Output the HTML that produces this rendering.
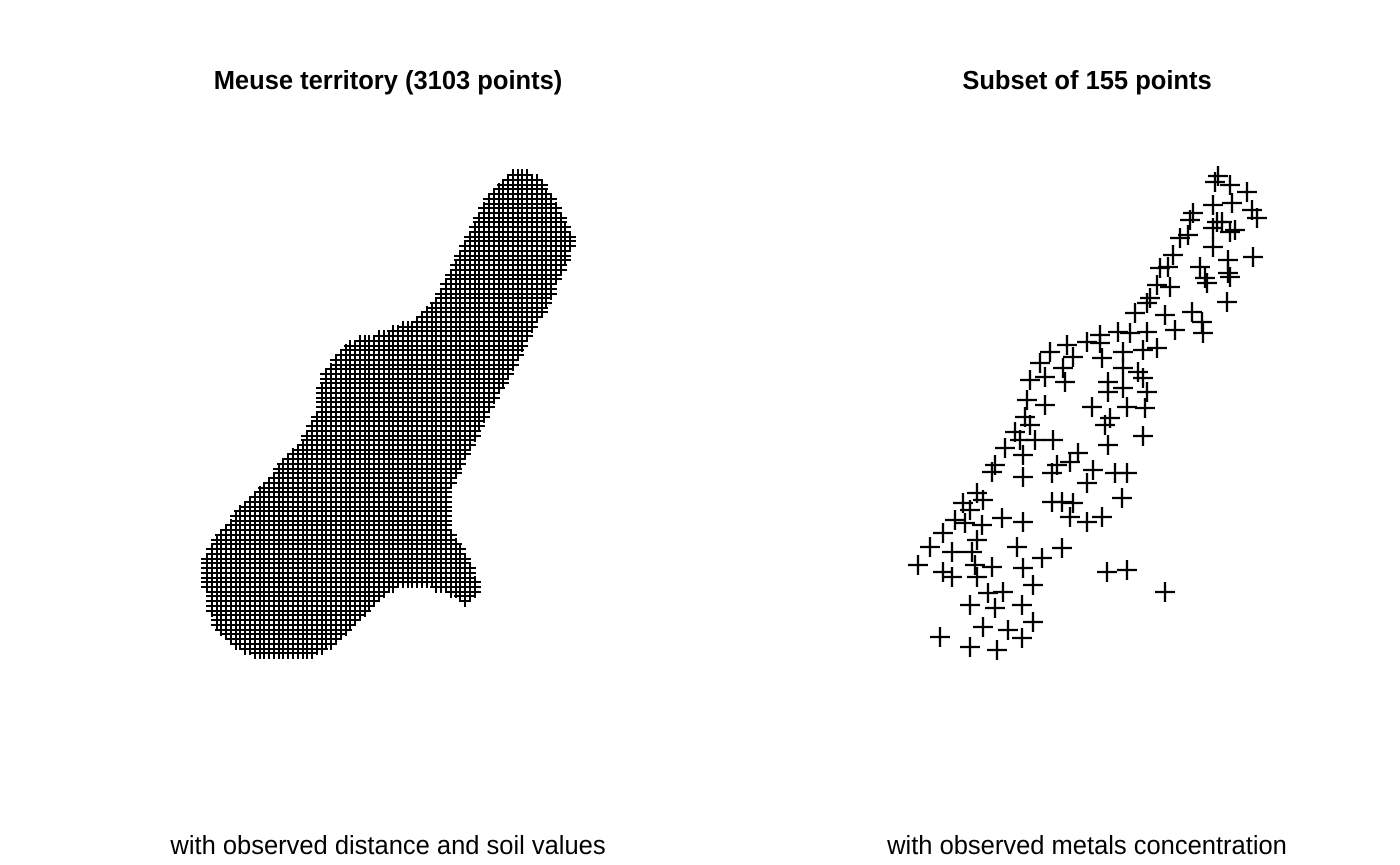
<!DOCTYPE html>
<html><head><meta charset="utf-8"><style>
html,body{margin:0;padding:0;background:#fff;}
svg{display:block;font-family:"Liberation Sans",Arial,sans-serif;}
</style></head><body>
<svg id="chart" width="1400" height="865" viewBox="0 0 1400 865">
<rect width="1400" height="865" fill="#fff"/>
<text x="388" y="89" text-anchor="middle" font-size="25.5" font-weight="bold">Meuse territory (3103 points)</text>
<text x="1087" y="89" text-anchor="middle" font-size="25.5" font-weight="bold">Subset of 155 points</text>
<text x="388" y="854" text-anchor="middle" font-size="25.5">with observed distance and soil values</text>
<text x="1087" y="854" text-anchor="middle" font-size="25.5">with observed metals concentration</text>
<g id="gridPts"></g>
<g id="samplePts"></g>
</svg>
<script>
// Territory boundary (RD coordinates, metres)
const boundaryX=[181105,181247,181356,181473,181523,181473,181390,181314,181163,181021,180912,180770,180636,180494,180469,180636,180728,180645,180494,180268,180075,179883,179716,179573,179297,178929,178711,178527,178460,178460,178569,178795,179071,179238,179381,179431,179548,179682,179992,180218,180385,180519,180661,180804,180971];
const boundaryY=[333740,333659,333490,333262,333152,332983,332814,332620,332366,332079,331885,331606,331352,331065,330727,330448,330220,330085,330169,330254,330254,330110,329941,329772,329628,329620,329713,329882,330220,330473,330676,330930,331234,331403,331690,331994,332163,332290,332375,332476,332645,332924,333211,333490,333684];
const gridStep=40;
// Sample locations (metres)
const sampleX=[181008,180984,181104,181240,180968,181120,180808,180784,181280,181320,181000,181040,180968,181144,181104,180768,180704,180968,180648,181088,181288,180608,180544,180864,180904,181088,181104,180520,180624,180920,180464,181080,180440,180344,180584,180800,180880,180664,180440,180208,180064,180888,180304,179960,179800,179664,179848,180064,180080,180248,180408,180520,179584,179624,179768,179504,179784,180248,180368,180408,180128,180128,180248,180440,179480,179624,180000,180280,180424,180144,180104,179464,179504,179384,179424,179544,179688,180408,180128,179304,179448,179888,179824,179720,179224,179448,179680,180008,180184,180280,179960,180240,179080,178968,179128,179680,179760,179848,179024,179280,179448,179824,179960,180080,178904,178984,179120,178808,179080,178704,178880,179040,179400,179760,179600,178608,178808,178880,179064,179200,179448,179080,180120,180280,180584,179528,179168,179288,179024,179224,179440,179528,179128,179328,179440,178784,179024,179240,179200];
const sampleY=[333492,333444,333420,333364,333260,333276,333196,333140,333220,333156,333124,333124,333076,333060,333044,333020,332996,332924,332860,332820,332844,332764,332756,332764,332676,332716,332684,332620,332604,332636,332516,332484,332476,332396,332380,332404,332324,332260,332244,332244,332220,332236,332236,332164,332140,332084,332044,332156,332036,332084,332100,332116,331996,331884,331956,331860,331844,331956,331924,331876,331844,331764,331796,331764,331700,331660,331644,331644,331636,331556,331500,331564,331500,331444,331380,331380,331380,331412,331340,331316,331260,331276,331204,331180,331180,331084,331116,331140,331116,331116,331036,330916,330956,330876,330900,330884,330884,330876,330820,330756,330724,330764,330724,330764,330740,330716,330700,330636,330580,330524,330484,330484,330524,330516,330436,330380,330324,330284,330380,330364,330356,330284,330324,330340,330164,330220,330156,330164,330060,330036,330060,329924,329884,329860,329796,329804,329724,329700,331124];

const NS='http://www.w3.org/2000/svg';
// axis functions
function lx(x){return 207+(x-178460)/8.37;}
function ly(y){return 658-(y-329620)/8.45;}
function rx(x){return 917+(x-178600)/8;}
function ry(y){return 650-(y-329700)/8;}

function inside(px,py){
  let c=false;
  for(let i=0,j=boundaryX.length-1;i<boundaryX.length;j=i++){
    const xi=boundaryX[i],yi=boundaryY[i],xj=boundaryX[j],yj=boundaryY[j];
    if(((yi>py)!==(yj>py)) && (px<(xj-xi)*(py-yi)/(yj-yi)+xi)) c=!c;
  }
  return c;
}
function plusPath(cx,cy,h){
  return 'M'+(cx-h).toFixed(1)+' '+cy.toFixed(1)+'H'+(cx+h).toFixed(1)+'M'+cx.toFixed(1)+' '+(cy-h).toFixed(1)+'V'+(cy+h).toFixed(1);
}
let d='';
const xmin=Math.min(...boundaryX),xmax=Math.max(...boundaryX),ymin=Math.min(...boundaryY),ymax=Math.max(...boundaryY);
for(let x=178460;x<=xmax;x+=gridStep){
  for(let y=329620;y<=ymax;y+=gridStep){
    if(x<xmin-gridStep||y<ymin-gridStep)continue;
    if(inside(x,y)) d+=plusPath(Math.round(lx(x)),Math.round(ly(y)),6);
  }
}
const gp=document.createElementNS(NS,'path');
gp.setAttribute('d',d);gp.setAttribute('stroke','#000');gp.setAttribute('stroke-width','2');gp.setAttribute('fill','none');


document.getElementById('gridPts').appendChild(gp);

const sg=document.getElementById('samplePts');
for(let i=0;i<sampleX.length;i++){
  const p=document.createElementNS(NS,'path');
  p.setAttribute('d',plusPath(rx(sampleX[i]),ry(sampleY[i]),10));
  p.setAttribute('stroke','#000');p.setAttribute('stroke-width','2.3');p.setAttribute('fill','none');
  
  
  sg.appendChild(p);
}
</script>
</body></html>
